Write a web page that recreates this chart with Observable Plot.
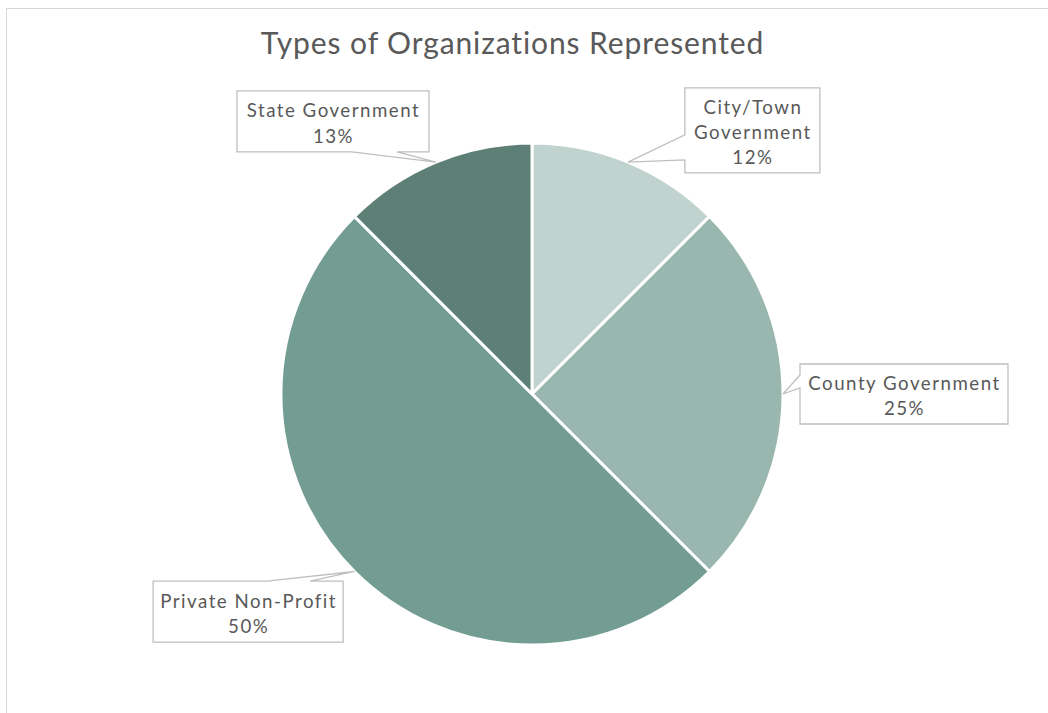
<!DOCTYPE html>
<html>
<head>
<meta charset="utf-8">
<script src="https://cdn.jsdelivr.net/npm/d3@7"></script>
<script src="https://cdn.jsdelivr.net/npm/@observablehq/plot@0.6"></script>
<style>
  html, body { margin: 0; padding: 0; background: #fff; width: 1048px; height: 713px; overflow: hidden; }
  #wrap { position: relative; width: 1048px; height: 713px; }
  #frame { position: absolute; left: 6px; top: 8px; width: 1100px; height: 800px;
           border-top: 1.5px solid #d9d9d9; border-left: 1.5px solid #d9d9d9; pointer-events: none; }
  #title { position: relative; height: 70px; }
  #title span { position: absolute; left: 0; width: 1025px; top: 27px; text-align: center;
                font-family: Lato, "Open Sans", sans-serif; font-size: 30px; line-height: 30px; color: #595959;
                letter-spacing: 0.9px; }
  #chart svg { display: block; }
</style>
</head>
<body>
<div id="wrap">
  <div id="frame"></div>
  <div id="title"><span>Types of Organizations Represented</span></div>
  <div id="chart"></div>
</div>
<script>
// ---- data ----
const categories = ["City/Town Government", "County Government", "Private Non-Profit", "State Government"];
const shares = [12.5, 25, 50, 12.5];
const pctLabels = ["12%", "25%", "50%", "13%"];
const labelLines = ["City/Town\nGovernment", "County Government", "Private Non-Profit", "State Government"];
const colors = ["#c1d3ce", "#99b7ae", "#739d92", "#5d7f76"];

// ---- callout layout (box centre in pie-radius units, box size and tail base in px) ----
const calloutLayout = [
  {bx: 0.878, by: 1.050, w: 135, h: 85, side: "left", t1: 47, t2: 72},
  {bx: 1.482, by: 0.000, w: 208, h: 60, side: "left", t1: 11, t2: 24},
  {bx: -1.131, by: -0.867, w: 190, h: 61, side: "top", t1: 114, t2: 157},
  {bx: -0.793, by: 1.086, w: 192, h: 61, side: "bottom", t1: 115, t2: 160}
];

const data = categories.map((c, i) => ({category: c, value: shares[i], pct: pctLabels[i], label: labelLines[i]}));
const arcs = d3.pie().value(d => d.value).sort(null)(data);
const rows = data.map((d, i) => ({...d, ...calloutLayout[i], arc: arcs[i]}));

const slices = Plot.dot(arcs, {
  x: () => 0, y: () => 0, fill: d => d.data.category,
  render: (index, scales, values) => {
    const cx = scales.x(0), cy = scales.y(0), r = scales.x(1) - scales.x(0);
    const arc = d3.arc().innerRadius(0).outerRadius(r);
    const g = d3.create("svg:g").attr("transform", `translate(${cx},${cy})`);
    g.selectAll("path").data(index).join("path")
      .attr("d", i => arc(arcs[i]))
      .attr("fill", i => values.fill[i])
      .attr("stroke", "#ffffff").attr("stroke-width", 3).attr("stroke-linejoin", "round");
    return g.node();
  }
});

const callouts = Plot.dot(rows, {
  x: "bx", y: "by",
  render: (index, scales, values) => {
    const g = d3.create("svg:g");
    for (const i of index) {
      const d = rows[i];
      const mid = (d.arc.startAngle + d.arc.endAngle) / 2;
      const tx = scales.x(Math.sin(mid)), ty = scales.y(Math.cos(mid));
      const x0 = values.x[i] - d.w / 2, y0 = values.y[i] - d.h / 2;
      const x1 = x0 + d.w, y1 = y0 + d.h;
      const p = d3.path();
      p.moveTo(x0, y0);
      if (d.side === "top") { p.lineTo(x0 + d.t1, y0); p.lineTo(tx, ty); p.lineTo(x0 + d.t2, y0); }
      p.lineTo(x1, y0);
      p.lineTo(x1, y1);
      if (d.side === "bottom") { p.lineTo(x0 + d.t2, y1); p.lineTo(tx, ty); p.lineTo(x0 + d.t1, y1); }
      p.lineTo(x0, y1);
      if (d.side === "left") { p.lineTo(x0, y0 + d.t2); p.lineTo(tx, ty); p.lineTo(x0, y0 + d.t1); }
      p.closePath();
      g.append("path").attr("d", p.toString())
        .attr("fill", "#ffffff").attr("stroke", "#bfbfbf").attr("stroke-width", 1.3);
    }
    return g.node();
  }
});

const labels = Plot.text(rows, {
  x: "bx", y: "by",
  text: d => d.label + "\n" + d.pct,
  lineAnchor: "middle", lineHeight: 1.35,
  fontSize: 18.7, fill: "#595959", fontFamily: "Lato, 'Open Sans', sans-serif"
});

const chart = Plot.plot({
  width: 1048, height: 643, margin: 0,
  style: {background: "transparent", overflow: "visible", fontFamily: "Lato, sans-serif", letterSpacing: "1.5px"},
  x: {domain: [-1, 1], range: [281, 783], axis: null},
  y: {domain: [-1, 1], range: [575, 73], axis: null},
  color: {domain: categories, range: colors},
  marks: [slices, callouts, labels]
});
document.getElementById("chart").appendChild(chart);
</script>
</body>
</html>
